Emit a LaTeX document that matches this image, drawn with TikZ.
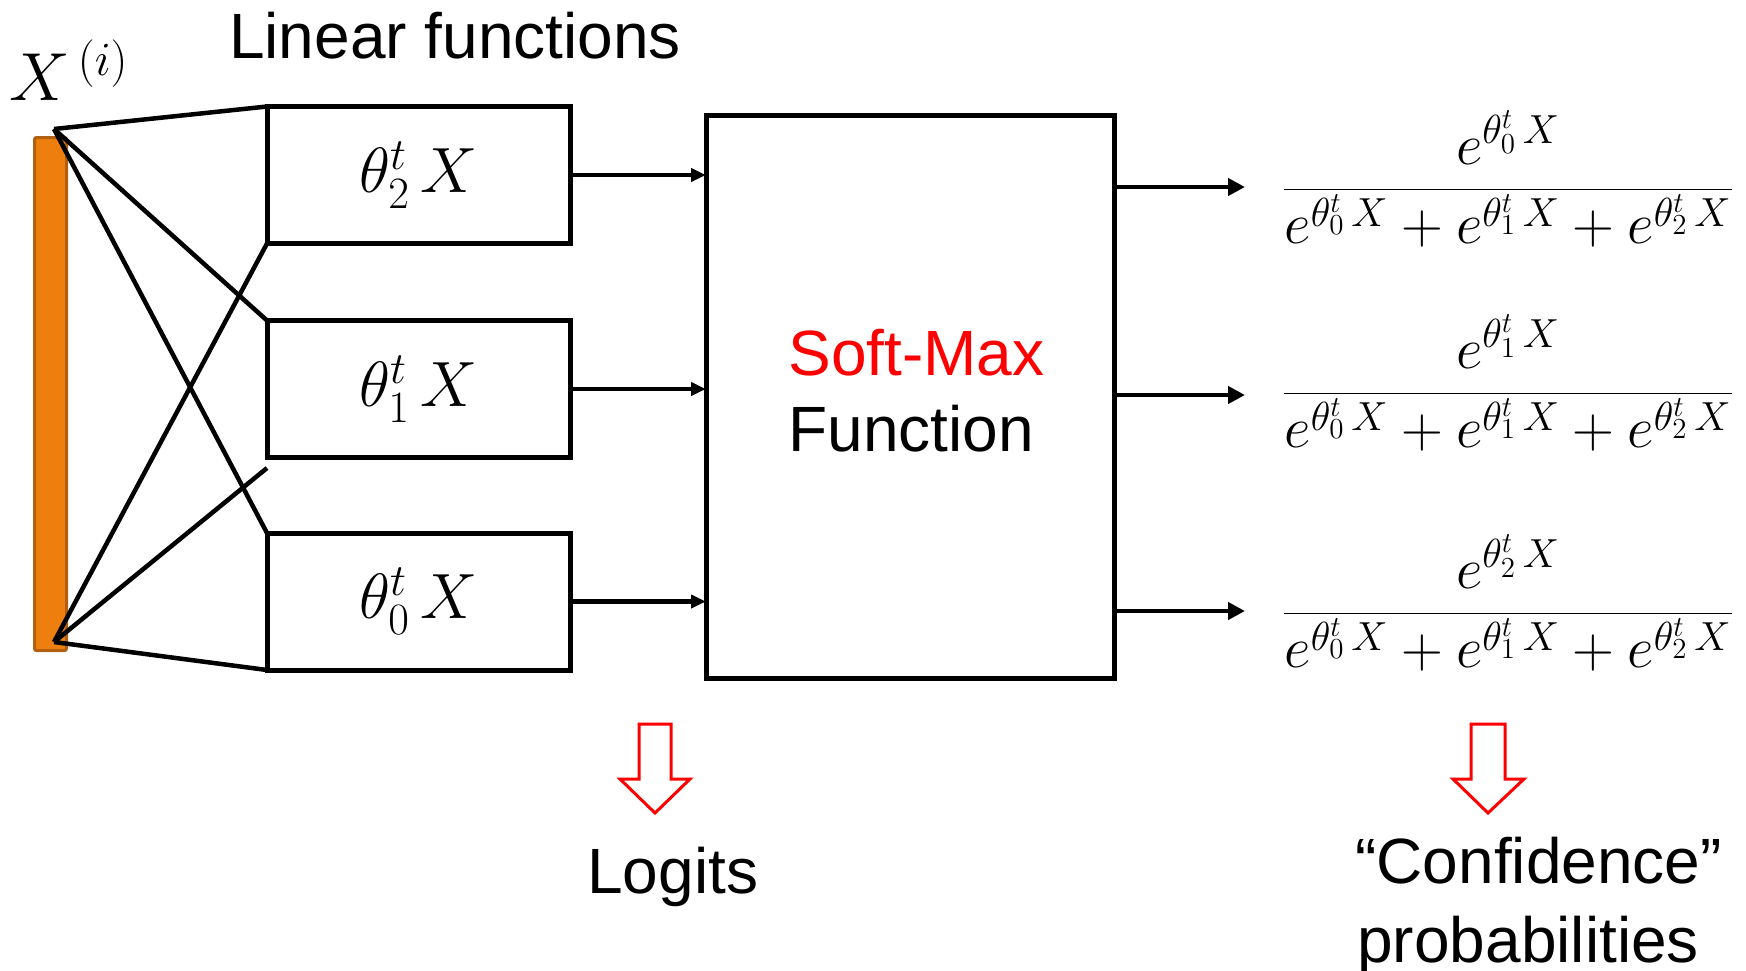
\RequirePackage{fix-cm}
\documentclass[tikz,border=0pt]{standalone}
\usepackage[no-math]{fontspec}
\setmainfont{Liberation Sans}
\usetikzlibrary{arrows.meta}
\definecolor{orangebar}{RGB}{238,127,14}
\definecolor{orangedark}{RGB}{176,96,16}
\newcommand{\ex}[1]{e^{\theta_{#1}^t\,X}}
\begin{document}
\begin{tikzpicture}[x=0.5pt,y=-0.5pt,
  lbox/.style={draw, line width=2.5pt, minimum width=151.5pt, minimum height=68.5pt, inner sep=0pt, outer sep=0pt, font=\fontsize{32}{38}\selectfont},
  wire/.style={line width=2.25pt},
  inarrow/.style={line width=2.4pt, -{Triangle[length=7.5pt,width=6.5pt]}},
  outarrow/.style={line width=2.4pt, -{Triangle[length=8.5pt,width=8.5pt]}},
  txt/.style={font=\fontsize{32}{38}\selectfont, inner sep=0pt},
  frac/.style={font=\fontsize{29}{35}\selectfont, inner sep=0pt, anchor=base},
  hollow/.style={draw=red, fill=white, line width=1.5pt, line join=miter}
]
\useasboundingbox (0,0) rectangle (1746,970);

% input vector
\node[draw=orangedark, fill=orangebar, line width=1.5pt, minimum width=16pt, minimum height=256.5pt, inner sep=0pt, rounded corners=1pt] (bar) at (50.5,394) {};
\node[anchor=base west, inner sep=0pt, font=\fontsize{34}{40}\selectfont] (xi) at (9,100) {$X^{\,(i)}$};
\coordinate (top) at (54,129);
\coordinate (bot) at (54,642);

% linear function boxes
\node[txt, anchor=base] (lin) at (455,58) {Linear functions};
\node[lbox] (b2) at (418.5,175) {$\theta_2^t\,X$};
\node[lbox] (b1) at (418.5,389) {$\theta_1^t\,X$};
\node[lbox] (b0) at (418.5,601.5) {$\theta_0^t\,X$};
\coordinate (b1low) at (267,468);

\draw[wire] (top) -- (b2.north west);
\draw[wire] (top) -- (b1.north west);
\draw[wire] (top) -- (b0.north west);
\draw[wire] (bot) -- (b2.south west);
\draw[wire] (bot) -- (b1low);
\draw[wire] (bot) -- (b0.south west);

% soft-max box
\node[draw, line width=2.5pt, minimum width=204pt, minimum height=281.5pt, inner sep=0pt, outer sep=0pt] (sm) at (910,396.5) {};
\node[txt, anchor=base west, text=red] (smt) at (788,375) {Soft-Max};
\node[txt, anchor=base west] (fun) at (788,451) {Function};

\draw[inarrow] (b2.east) -- (b2.east -| sm.west);
\draw[inarrow] (b1.east) -- (b1.east -| sm.west);
\draw[inarrow] (b0.east) -- (b0.east -| sm.west);

% outputs
\coordinate (o0) at (1245,187);
\coordinate (o1) at (1245,395);
\coordinate (o2) at (1245,611);
\draw[outarrow] (sm.east |- o0) -- (o0);
\draw[outarrow] (sm.east |- o1) -- (o1);
\draw[outarrow] (sm.east |- o2) -- (o2);

\node[frac] (f0) at (1508,203.5) {$\displaystyle\frac{\ex0}{\ex0+\ex1+\ex2}$};
\node[frac] (f1) at (1508,407.5) {$\displaystyle\frac{\ex1}{\ex0+\ex1+\ex2}$};
\node[frac] (f2) at (1508,627.5) {$\displaystyle\frac{\ex2}{\ex0+\ex1+\ex2}$};

% hollow red arrows
\draw[hollow] (639,724) -- (671,724) -- (671,779) -- (690,779) -- (655,813) -- (620,779) -- (639,779) -- cycle;
\draw[hollow] (1471,724) -- (1505,724) -- (1505,779) -- (1524,779) -- (1488,813) -- (1453,779) -- (1471,779) -- cycle;

% bottom labels
\node[txt, anchor=base west] (logits) at (587,893) {Logits};
\node[txt, anchor=base west] (conf) at (1355,883) {“Confidence”};
\node[txt, anchor=base west] (prob) at (1357,962) {probabilities};
\end{tikzpicture}
\end{document}
